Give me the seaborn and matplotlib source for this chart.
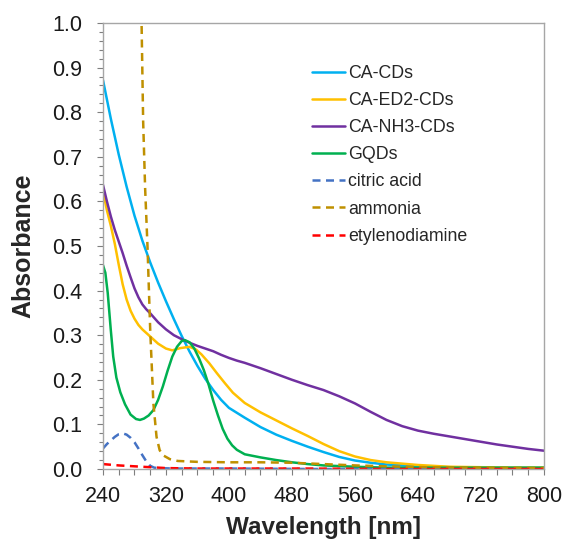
import numpy as np
import pandas as pd
import seaborn as sns
import matplotlib
matplotlib.use("Agg")
import matplotlib.pyplot as plt
from matplotlib.ticker import MultipleLocator

# values
samples = ["CA-CDs", "CA-ED2-CDs", "CA-NH3-CDs", "GQDs",
           "citric acid", "ammonia", "etylenodiamine"]

wl_ca_cds = [240, 250, 260, 270, 280, 290, 300, 310, 320, 330, 340, 350, 360,
             370, 380, 390, 400, 420, 440, 460, 480, 500, 520, 540, 560, 580,
             600, 640, 680, 720, 760, 800]
abs_ca_cds = [0.872, 0.785, 0.705, 0.633, 0.568, 0.512, 0.463, 0.418, 0.376,
              0.336, 0.298, 0.263, 0.231, 0.202, 0.177, 0.155, 0.137, 0.115,
              0.094, 0.077, 0.063, 0.050, 0.038, 0.027, 0.019, 0.014, 0.010,
              0.006, 0.004, 0.003, 0.002, 0.002]

wl_ed2 = [240, 245, 250, 255, 260, 265, 270, 275, 280, 285, 290, 300, 310, 320,
          328, 338, 350, 358, 365, 375, 385, 395, 405, 420, 440, 460, 480, 500,
          520, 540, 560, 580, 600, 640, 680, 720, 760, 800]
abs_ed2 = [0.622, 0.580, 0.545, 0.505, 0.458, 0.414, 0.380, 0.355, 0.337,
           0.323, 0.313, 0.297, 0.281, 0.270, 0.266, 0.271, 0.274, 0.268,
           0.257, 0.237, 0.214, 0.192, 0.171, 0.148, 0.127, 0.109, 0.091,
           0.074, 0.056, 0.040, 0.028, 0.020, 0.015, 0.009, 0.005, 0.004,
           0.003, 0.003]

wl_nh3 = [240, 245, 250, 255, 260, 265, 270, 275, 280, 285, 290, 295, 300, 310,
          320, 330, 340, 350, 360, 370, 380, 390, 400, 410, 420, 440, 460, 480,
          500, 520, 540, 560, 580, 600, 620, 640, 660, 680, 700, 720, 740, 760,
          780, 800]
abs_nh3 = [0.637, 0.600, 0.566, 0.536, 0.510, 0.484, 0.456, 0.430, 0.405,
           0.385, 0.369, 0.358, 0.349, 0.329, 0.313, 0.300, 0.291, 0.283,
           0.276, 0.270, 0.264, 0.256, 0.249, 0.243, 0.238, 0.226, 0.213,
           0.200, 0.188, 0.177, 0.163, 0.147, 0.128, 0.110, 0.096, 0.086,
           0.079, 0.073, 0.067, 0.061, 0.055, 0.050, 0.045, 0.041]

wl_gqd = [240, 243, 246, 250, 253, 257, 262, 268, 275, 282, 287, 292, 298, 304,
          310, 316, 322, 328, 334, 340, 344, 350, 356, 362, 368, 374, 380, 386,
          392, 398, 404, 410, 420, 440, 460, 480, 500, 520, 560, 600, 700, 800]
abs_gqd = [0.457, 0.440, 0.395, 0.310, 0.252, 0.205, 0.172, 0.145, 0.122,
           0.112, 0.110, 0.113, 0.120, 0.132, 0.155, 0.185, 0.220, 0.252,
           0.274, 0.287, 0.289, 0.284, 0.270, 0.248, 0.222, 0.190, 0.153,
           0.120, 0.090, 0.068, 0.053, 0.043, 0.033, 0.026, 0.020, 0.015,
           0.011, 0.008, 0.005, 0.003, 0.003, 0.003]

wl_citric = [240, 245, 250, 255, 260, 265, 270, 275, 280, 285, 290, 295, 300,
             305, 310, 330, 400, 500, 600, 700, 800]
abs_citric = [0.046, 0.056, 0.064, 0.072, 0.078, 0.080, 0.077, 0.070, 0.060,
              0.046, 0.031, 0.017, 0.007, 0.003, 0.002, 0.001, 0.001, 0.0,
              0.0, 0.0, 0.0]

wl_ammonia = [284, 289, 291, 293.5, 296.5, 300, 304, 308, 312, 317, 325, 335,
              360, 400, 440, 480, 520, 560, 600, 650, 700, 800]
abs_ammonia = [1.3, 1.0, 0.78, 0.63, 0.50, 0.31, 0.147, 0.072, 0.042, 0.030,
               0.022, 0.018, 0.016, 0.015, 0.015, 0.014, 0.011, 0.008, 0.006,
               0.004, 0.003, 0.002]

wl_eda = [240, 260, 280, 300, 320, 360, 400, 500, 600, 700, 800]
abs_eda = [0.011, 0.008, 0.006, 0.004, 0.002, 0.001, 0.001, 0.001, 0.0, 0.0, 0.0]

colors = ["#00B0F0", "#FFC000", "#7030A0", "#00B050",
          "#4472C4", "#BF9000", "#FF0000"]

series = [(wl_ca_cds, abs_ca_cds), (wl_ed2, abs_ed2), (wl_nh3, abs_nh3),
          (wl_gqd, abs_gqd), (wl_citric, abs_citric),
          (wl_ammonia, abs_ammonia), (wl_eda, abs_eda)]

frames = []
for name, (wl, ab) in zip(samples, series):
    frames.append(pd.DataFrame({"wavelength": wl, "absorbance": ab,
                                "sample": name}))
df = pd.concat(frames, ignore_index=True)

sns.set_style("ticks")
plt.rcParams["font.family"] = ["Liberation Sans", "DejaVu Sans"]

fig = plt.figure(figsize=(5.64, 5.40), dpi=100)
ax = fig.add_axes([0.1826, 0.1315, 0.7819, 0.8259])

palette = dict(zip(samples, colors))
dashes = {s: "" for s in samples[:4]}
dashes.update({s: (3.2, 2.2) for s in samples[4:]})

sns.lineplot(data=df, x="wavelength", y="absorbance", hue="sample",
             style="sample", hue_order=samples, style_order=samples,
             palette=palette, dashes=dashes, estimator=None, sort=False,
             linewidth=1.8, ax=ax)

ax.set_xlim(240, 800)
ax.set_ylim(0, 1.0)
ax.xaxis.set_major_locator(MultipleLocator(80))
ax.xaxis.set_minor_locator(MultipleLocator(20))
ax.yaxis.set_major_locator(MultipleLocator(0.1))
ax.yaxis.set_minor_locator(MultipleLocator(0.02))
ax.yaxis.set_major_formatter(matplotlib.ticker.FormatStrFormatter("%.1f"))

for sp in ax.spines.values():
    sp.set_visible(True)
    sp.set_color("#A6A6A6")
    sp.set_linewidth(1.0)
ax.tick_params(which="both", direction="out", width=0.8, color="#7F7F7F")
ax.tick_params(axis="x", which="both", length=4.5)
ax.tick_params(axis="y", which="major", length=4.5)
ax.tick_params(axis="y", which="minor", length=3)
ax.tick_params(which="major", labelsize=15.5, labelcolor="#1A1A1A")
ax.tick_params(axis="x", which="major", pad=8)
ax.tick_params(axis="y", which="major", pad=10.5)
ax.tick_params(top=False, right=False, which="both")

ax.set_xlabel("Wavelength [nm]", fontsize=17.5, fontweight="bold", labelpad=6)
ax.set_ylabel("Absorbance", fontsize=18, fontweight="bold", labelpad=12)

handles, labels = ax.get_legend_handles_labels()
ax.legend(handles, labels, loc="upper left", bbox_to_anchor=(0.474, 0.906),
          frameon=False, fontsize=12.8, handlelength=1.85, handletextpad=0.2,
          labelspacing=0.57, borderpad=0, borderaxespad=0)

fig.savefig("out.png", dpi=100)
